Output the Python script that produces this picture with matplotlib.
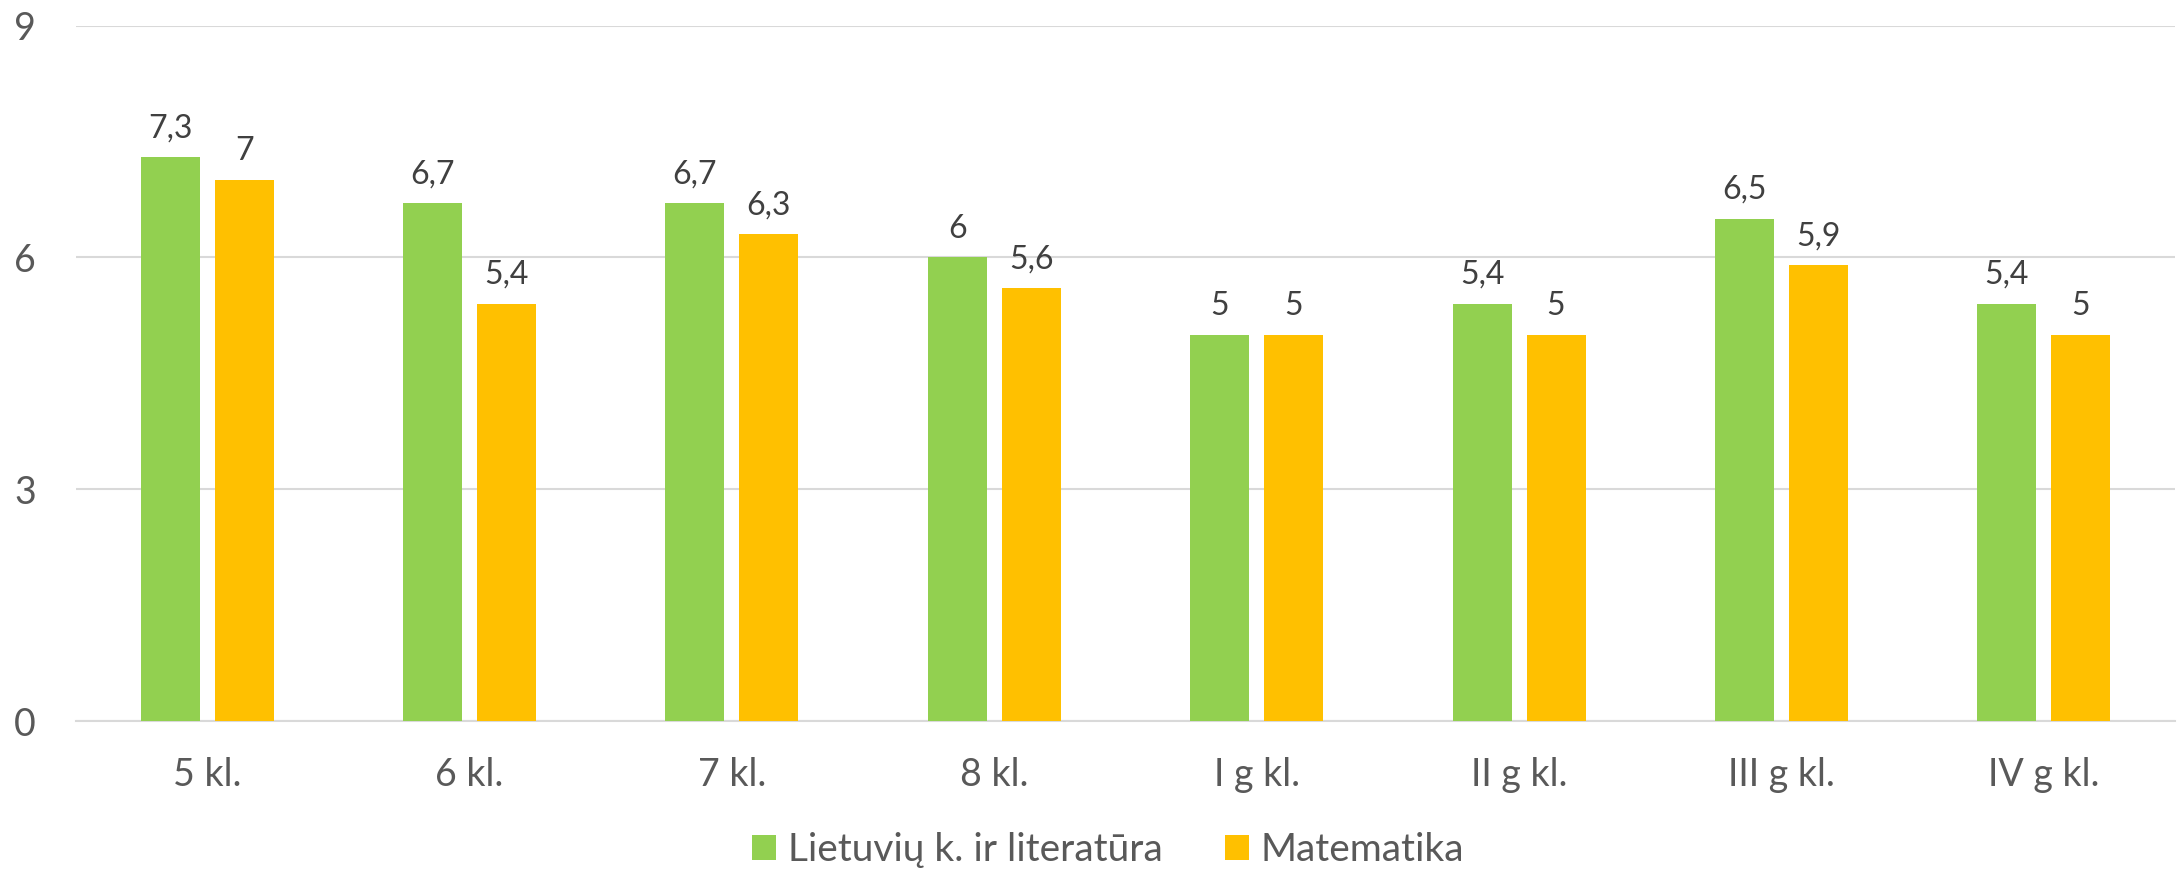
import matplotlib.pyplot as plt
import numpy as np

plt.rcParams['font.family'] = ['Lato', 'DejaVu Sans']

categories = ['5 kl.', '6 kl.', '7 kl.', '8 kl.', 'I g kl.', 'II g kl.', 'III g kl.', 'IV g kl.']
lietuviu = [7.3, 6.7, 6.7, 6.0, 5.0, 5.4, 6.5, 5.4]
matematika = [7.0, 5.4, 6.3, 5.6, 5.0, 5.0, 5.9, 5.0]
series_names = ['Lietuvių k. ir literatūra', 'Matematika']

green = '#92D050'
yellow = '#FFC000'
txt = '#595959'

fig = plt.figure(figsize=(21.83, 8.72), dpi=100)
ax = fig.add_axes([76 / 2183, 1 - 721 / 872, (2175 - 76) / 2183, (721 - 25.7) / 872])

x = np.arange(len(categories))
w = 0.225
b1 = ax.bar(x - 0.141, lietuviu, w, color=green, label=series_names[0], zorder=3)
b2 = ax.bar(x + 0.141, matematika, w, color=yellow, label=series_names[1], zorder=3)

def fmt(v):
    return ('%g' % v).replace('.', ',')

for bars, vals in [(b1, lietuviu), (b2, matematika)]:
    for r, v in zip(bars, vals):
        ax.annotate(fmt(v), (r.get_x() + r.get_width() / 2, v), xytext=(0, 10),
                    textcoords='offset points', ha='center', va='bottom',
                    fontsize=23, color='#404040')

ax.set_xlim(-0.5, len(categories) - 0.5)
ax.set_ylim(0, 9)
ax.set_yticks([0, 3, 6, 9])
ax.set_xticks(x)
ax.set_xticklabels(categories)
ax.tick_params(axis='both', length=0, labelsize=27, colors=txt)
ax.tick_params(axis='y', pad=29)
ax.tick_params(axis='x', pad=26)
ax.grid(axis='y', color='#D9D9D9', linewidth=1.5, zorder=0)
for s in ['top', 'right', 'left']:
    ax.spines[s].set_visible(False)
ax.spines['bottom'].set_color('#D9D9D9')
ax.spines['bottom'].set_linewidth(1.5)

leg = fig.legend(handles=[b1, b2], loc='center', bbox_to_anchor=(1108 / 2183, 1 - 850 / 872),
                 ncol=2, frameon=False, fontsize=28, handlelength=0.62, handleheight=0.62,
                 handletextpad=0.3, columnspacing=1.6)
for t in leg.get_texts():
    t.set_color(txt)

fig.savefig('out.png', dpi=100)
